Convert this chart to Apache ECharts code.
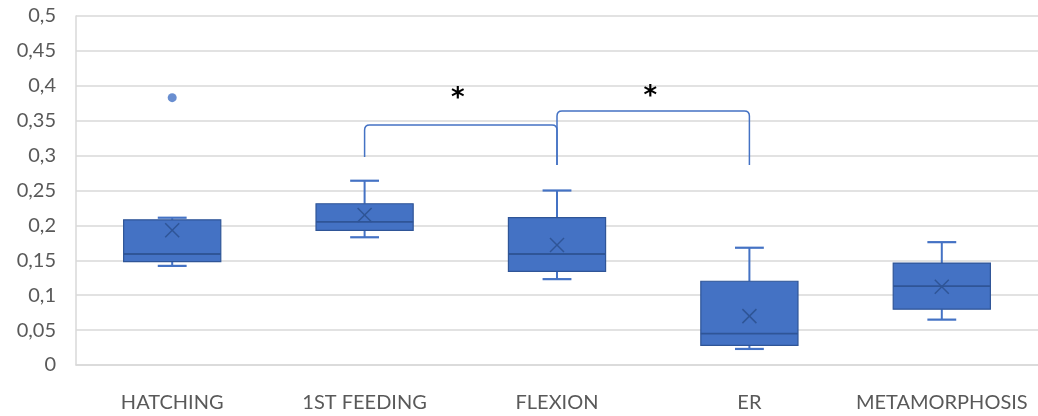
<!DOCTYPE html>
<html>
<head>
<meta charset="utf-8">
<script src="https://cdn.jsdelivr.net/npm/echarts@6/dist/echarts.min.js"></script>
<style>
  html, body { margin: 0; padding: 0; background: #ffffff; }
  #chart { width: 1038px; height: 416px; }
</style>
</head>
<body>
<div id="chart"></div>
<script>
// Developmental stages on the category axis
const categories = ['HATCHING', '1ST FEEDING', 'FLEXION', 'ER', 'METAMORPHOSIS'];

// Box-and-whisker statistics per stage
const whiskerMin = [0.142, 0.183, 0.123, 0.023, 0.065];
const quartile1  = [0.148, 0.193, 0.134, 0.028, 0.080];
const medians    = [0.159, 0.205, 0.159, 0.045, 0.113];
const quartile3  = [0.208, 0.231, 0.211, 0.120, 0.146];
const whiskerMax = [0.211, 0.264, 0.250, 0.168, 0.176];
const means      = [0.193, 0.215, 0.172, 0.070, 0.112];

// Outlying points: [category index, value]
const outliers = [[0, 0.383]];

// Significance brackets between stages
const bracketPairs     = [[1, 2], [2, 3]];
const bracketTops      = [0.344, 0.364];
const bracketLeftEnds  = [0.298, 0.2865];
const bracketRightEnds = [0.2865, 0.2865];
const bracketMarks     = ['*', '*'];
const bracketMarkLevel = [0.381, 0.384];

// Y axis range and step
const yMin = 0, yMax = 0.5, yStep = 0.05;

const FILL = '#4472C4';
const DARK = '#2F5597';
const FONT = 'Lato, "Open Sans", sans-serif';

const boxData = categories.map((c, i) => [i, whiskerMin[i], quartile1[i], medians[i], quartile3[i], whiskerMax[i], means[i]]);
const bracketData = bracketPairs.map((p, k) => [p[0], p[1], bracketTops[k], bracketLeftEnds[k], bracketRightEnds[k], bracketMarkLevel[k], k]);

function renderBox(params, api) {
  const i = api.value(0);
  const pMin = api.coord([i, api.value(1)]);
  const pQ1 = api.coord([i, api.value(2)]);
  const pMed = api.coord([i, api.value(3)]);
  const pQ3 = api.coord([i, api.value(4)]);
  const pMax = api.coord([i, api.value(5)]);
  const pMean = api.coord([i, api.value(6)]);
  const band = api.size([1, 0])[0];
  const boxW = band * 0.505;
  const capW = band * 0.15;
  const x = pMed[0];
  const xs = 7;
  return {
    type: 'group',
    children: [
      { type: 'line', shape: { x1: x, y1: pMax[1], x2: x, y2: pQ3[1] }, style: { stroke: FILL, lineWidth: 2 } },
      { type: 'line', shape: { x1: x, y1: pQ1[1], x2: x, y2: pMin[1] }, style: { stroke: FILL, lineWidth: 2 } },
      { type: 'line', shape: { x1: x - capW / 2, y1: pMax[1], x2: x + capW / 2, y2: pMax[1] }, style: { stroke: FILL, lineWidth: 2.2 } },
      { type: 'line', shape: { x1: x - capW / 2, y1: pMin[1], x2: x + capW / 2, y2: pMin[1] }, style: { stroke: FILL, lineWidth: 2.2 } },
      { type: 'rect', shape: { x: x - boxW / 2, y: pQ3[1], width: boxW, height: pQ1[1] - pQ3[1] }, style: { fill: FILL, stroke: DARK, lineWidth: 1.2 } },
      { type: 'line', shape: { x1: x - boxW / 2, y1: pMed[1], x2: x + boxW / 2, y2: pMed[1] }, style: { stroke: DARK, lineWidth: 1.8 } },
      { type: 'line', shape: { x1: x - xs, y1: pMean[1] - xs, x2: x + xs, y2: pMean[1] + xs }, style: { stroke: DARK, lineWidth: 1.5 } },
      { type: 'line', shape: { x1: x - xs, y1: pMean[1] + xs, x2: x + xs, y2: pMean[1] - xs }, style: { stroke: DARK, lineWidth: 1.5 } }
    ]
  };
}

function renderBracket(params, api) {
  const a = api.value(0), b = api.value(1);
  const top = api.value(2);
  const pL = api.coord([a, api.value(3)]);
  const pR = api.coord([b, api.value(4)]);
  const pT = api.coord([a, top]);
  const xL = pL[0], xR = pR[0], yT = pT[1];
  const r = 5;
  const path = 'M' + xL + ',' + pL[1] +
    ' L' + xL + ',' + (yT + r) +
    ' Q' + xL + ',' + yT + ' ' + (xL + r) + ',' + yT +
    ' L' + (xR - r) + ',' + yT +
    ' Q' + xR + ',' + yT + ' ' + xR + ',' + (yT + r) +
    ' L' + xR + ',' + pR[1];
  const markY = api.coord([a, api.value(5)])[1];
  return {
    type: 'group',
    children: [
      { type: 'path', shape: { pathData: path }, style: { fill: null, stroke: FILL, lineWidth: 1.5 } },
      { type: 'text', x: (xL + xR) / 2 - 3, y: markY, style: { text: bracketMarks[api.value(6)], fill: '#000000', font: 'bold 26px "DejaVu Sans", sans-serif', align: 'center', verticalAlign: 'middle' } }
    ]
  };
}

const chart = echarts.init(document.getElementById('chart'), null, { renderer: 'canvas' });
chart.setOption({
  animation: false,
  backgroundColor: '#ffffff',
  grid: { left: 76, right: -3, top: 16, bottom: 51, containLabel: false },
  xAxis: {
    type: 'category',
    data: categories,
    axisLine: { show: true, lineStyle: { color: '#d9d9d9', width: 1.5 } },
    axisTick: { show: false },
    axisLabel: { color: '#595959', fontSize: 20, fontFamily: FONT, margin: 28, interval: 0 },
    splitLine: { show: false }
  },
  yAxis: {
    type: 'value',
    min: yMin, max: yMax, interval: yStep,
    axisLine: { show: true, lineStyle: { color: '#d9d9d9', width: 1.5 } },
    axisTick: { show: false },
    axisLabel: {
      color: '#595959', fontSize: 20, fontFamily: FONT, margin: 20,
      formatter: v => String(+v.toFixed(2)).replace('.', ',')
    },
    splitLine: { show: true, lineStyle: { color: '#d9d9d9', width: 1.5 } }
  },
  series: [
    { type: 'custom', renderItem: renderBox, data: boxData, encode: { x: 0, y: [1, 2, 3, 4, 5, 6] }, z: 3 },
    { type: 'scatter', data: outliers, symbol: 'circle', symbolSize: 9, itemStyle: { color: FILL }, z: 4 },
    { type: 'custom', renderItem: renderBracket, data: bracketData, encode: { x: [0, 1], y: [2, 3, 4, 5] }, z: 5 }
  ]
});
</script>
</body>
</html>
